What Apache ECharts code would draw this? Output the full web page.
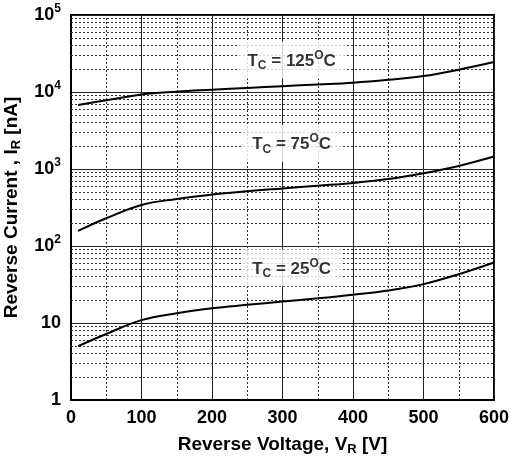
<!DOCTYPE html>
<html><head><meta charset="utf-8">
<script src="https://cdn.jsdelivr.net/npm/echarts@6/dist/echarts.min.js"></script>
<style>html,body{margin:0;padding:0;background:#fff}#c{width:518px;height:459px}</style>
</head><body><div id="c"></div>
<script>
var voltage = [10, 50, 100, 150, 200, 250, 300, 350, 400, 450, 500, 550, 600];
var tc125 = [6800, 7800, 9300, 10100, 10700, 11300, 11900, 12500, 13200, 14400, 16100, 19500, 24500];
var tc75 = [157, 229, 341, 408, 465, 515, 560, 607, 660, 740, 880, 1095, 1450];
var tc25 = [5.0, 7.2, 10.9, 13.4, 15.5, 17.2, 19.0, 20.9, 23.3, 26.5, 32.0, 43, 61];
var xMinorGrid = [50, 150, 250, 350, 450, 550];
var yMinorGrid = [2,3,4,5,6,7,8,9,20,30,40,50,60,70,80,90,200,300,400,500,600,700,800,900,2000,3000,4000,5000,6000,7000,8000,9000,20000,30000,40000,50000,60000,70000,80000,90000];
var labels = [
  {temp: '125', v: 313, i: 26000},
  {temp: '75', v: 313, i: 2150},
  {temp: '25', v: 313, i: 52}
];

function pairs(ys){ return voltage.map(function(v,k){ return [v, ys[k]]; }); }
var FONT = 'Liberation Sans, Arial, sans-serif';
var chart = echarts.init(document.getElementById('c'));
var lineStyle = {color:'#000', width:2};
var minorLines = [];
xMinorGrid.forEach(function(x){ minorLines.push({xAxis:x}); });
yMinorGrid.forEach(function(y){ minorLines.push({yAxis:y}); });
var nameRich = {a:{fontFamily:FONT, fontWeight:'bold', fontSize:19, color:'#000'}, sub:{fontFamily:FONT, fontWeight:'bold', fontSize:13, color:'#000', padding:[10,0,0,0]}};

chart.setOption({
  animation:false,
  grid:{left:71, top:15, right:24, bottom:59, containLabel:false, outerBoundsMode:'none', show:true, borderColor:'#000', borderWidth:2, backgroundColor:'transparent'},
  xAxis:{type:'value', min:0, max:600, interval:100,
    axisLine:{show:true, lineStyle:{color:'#000', width:2}},
    axisTick:{show:false},
    axisLabel:{color:'#000', fontFamily:FONT, fontWeight:'bold', fontSize:18, margin:9},
    splitLine:{show:true, lineStyle:{color:'#222', width:1}},
    name:'{a|Reverse Voltage, V}{sub|R}{a| [V]}', nameLocation:'middle', nameGap:33,
    nameTextStyle:{rich:nameRich}
  },
  yAxis:{type:'log', logBase:10, min:1, max:100000,
    axisLine:{show:true, lineStyle:{color:'#000', width:2}},
    axisTick:{show:false},
    axisLabel:{fontFamily:FONT, fontWeight:'bold', fontSize:18, color:'#000', margin:10,
      formatter:function(v){
        if (v===1) return '{b|1}';
        if (v===10) return '{b|10}';
        return '{b|10}{s|' + Math.round(Math.log10(v)) + '}';
      },
      rich:{b:{fontFamily:FONT, fontWeight:'bold', fontSize:18, color:'#000'},
            s:{fontFamily:FONT, fontWeight:'bold', fontSize:12, color:'#000', padding:[0,0,12,0]}}
    },
    splitLine:{show:true, lineStyle:{color:'#222', width:1}},
    name:'{a|Reverse Current , I}{sub|R}{a| [nA]}', nameLocation:'middle', nameGap:41,
    nameTextStyle:{rich:nameRich}
  },
  series:[
    {type:'line', data:[], silent:true, markLine:{silent:true, symbol:'none', label:{show:false},
      lineStyle:{color:'#333', type:[2,2], width:1}, data:minorLines}},
    {type:'line', data:pairs(tc125), smooth:0.4, showSymbol:false, lineStyle:lineStyle, z:5},
    {type:'line', data:pairs(tc75), smooth:0.4, showSymbol:false, lineStyle:lineStyle, z:5},
    {type:'line', data:pairs(tc25), smooth:0.4, showSymbol:false, lineStyle:lineStyle, z:5},
    {type:'scatter', symbolSize:0, z:10, data:labels.map(function(l){ return {value:[l.v, l.i], temp:l.temp}; }),
      label:{show:true, position:'inside', backgroundColor:'#fff', padding:[8,10,6,10],
        formatter:function(p){ return '{a|T}{sub|C}{a| = ' + p.data.temp + '}{sup|O}{a|C}'; },
        rich:{a:{fontFamily:FONT, fontWeight:'bold', fontSize:17, color:'#000'},
              sub:{fontFamily:FONT, fontWeight:'bold', fontSize:12, color:'#000', padding:[10,0,0,0]},
              sup:{fontFamily:FONT, fontWeight:'bold', fontSize:12, color:'#000', padding:[0,0,11,0]}}
      }}
  ]
});
</script></body></html>
